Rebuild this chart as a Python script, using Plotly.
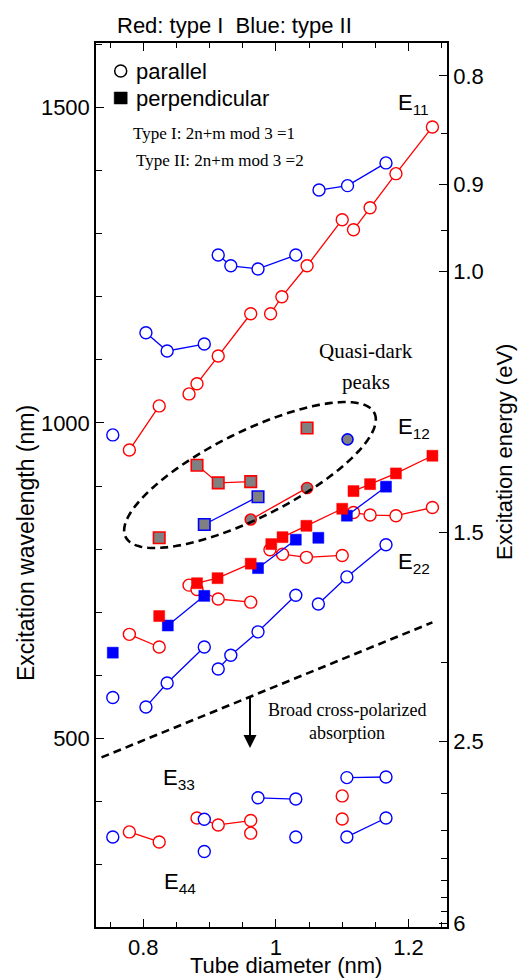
import math
import plotly.graph_objects as go

RED = "#ff0000"
BLUE = "#0000ff"
GRAY = "#808080"
SANS = "Liberation Sans, Arial, sans-serif"
SERIF = "Liberation Serif, Times New Roman, serif"

# ---------------- data (tube diameter nm, excitation wavelength nm); None = break ----
# E11, type I, parallel (red open circles)
e11_I_x = [0.779, 0.824, None, 0.869, 0.881, 0.913, 0.962, None, 0.992, 1.009, 1.047, 1.100, None, 1.117, 1.142, 1.181, 1.236]
e11_I_y = [957, 1027, None, 1046, 1062, 1106, 1173, None, 1173, 1200, 1249, 1322, None, 1306, 1341, 1395, 1469]
# E11, type II, parallel (blue open circles)
e11_II_x = [0.754, None, 0.804, 0.836, 0.892, None, 0.913, 0.932, 0.973, 1.030, None, 1.065, 1.108, 1.166]
e11_II_y = [981, None, 1143, 1114, 1125, None, 1266, 1249, 1244, 1266, None, 1369, 1376, 1412]
# E22, type I, parallel
e22_I_x = [0.779, 0.824, None, 0.869, 0.881, 0.913, 0.962, None, 0.991, 1.010, 1.046, 1.100, None, 1.117, 1.142, 1.181, 1.236]
e22_I_y = [665, 645, None, 743, 736, 721, 716, None, 799, 792, 787, 790, None, 858, 854, 853, 866]
# E22, type II, parallel
e22_II_x = [0.754, None, 0.804, 0.836, 0.892, None, 0.913, 0.932, 0.973, 1.030, None, 1.064, 1.107, 1.166]
e22_II_y = [565, None, 550, 588, 645, None, 610, 632, 669, 727, None, 713, 756, 807]
# E12, type I, perpendicular (red filled squares)
e12_I_x = [0.824, None, 0.881, 0.912, 0.962, None, 0.993, 1.010, 1.046, 1.100, None, 1.117, 1.142, 1.181, 1.236]
e12_I_y = [694, None, 746, 754, 777, None, 808, 819, 837, 864, None, 892, 903, 920, 948]
# E12, type II, perpendicular (blue filled squares)
e12_II_x = [0.754, None, 0.837, 0.892, None, 0.973, 1.030, None, 1.064, None, 1.107, 1.166]
e12_II_y = [636, None, 679, 726, None, 770, 815, None, 818, None, 853, 899]
# Quasi-dark peaks (gray)
qd_I_sq_x = [0.824, None, 0.881, 0.913, 0.962, None, 1.047]
qd_I_sq_y = [818, None, 933, 905, 907, None, 992]
qd_II_sq_x = [0.892, 0.973]
qd_II_sq_y = [839, 883]
qd_I_ci_x = [0.962, 1.047]
qd_I_ci_y = [847, 897]
qd_II_ci_x = [1.108]
qd_II_ci_y = [974]
# E33 / E44, parallel
e34_I_x = [0.779, 0.824, None, 0.881, 0.913, 0.962, None, 0.962, None, 1.100, None, 1.100]
e34_I_y = [352, 336, None, 374, 363, 370, None, 350, None, 409, None, 372.5]
e34_II_x = [0.754, None, 0.892, None, 0.892, None, 0.973, 1.030, None, 1.030, None, 1.107, 1.166, None, 1.107, 1.166]
e34_II_y = [344, None, 372, None, 321, None, 406, 404, None, 344, None, 438, 439, None, 344, 374]

# cross-polarized absorption boundary (dashed)
boundary_x = [0.737, 1.236]
boundary_y = [470, 684]

# right axis: photon energy tick labels (eV)
energy_major = [0.8, 0.9, 1.0, 1.5, 2.5, 6]
energy_major_text = ["0.8", "0.9", "1.0", "1.5", "2.5", "6"]
energy_minor = [0.85, 0.95, 2.0, 3.0, 3.5, 4.0, 4.5, 5.0, 5.5]
HC = 1239.84  # eV*nm

# ---------------- layout geometry ----------------
W, H = 518, 978
L, R, T, B = 96, 71, 43, 51
XR = [0.7287, 1.258]
YR = [201.3, 1602]
PW, PH = W - L - R, H - T - B


def dx(px):
    return XR[0] + (px - L) / PW * (XR[1] - XR[0])


def dy(py):
    return YR[1] - (py - T) / PH * (YR[1] - YR[0])


def px_paper(px):
    return (px - L) / PW


def py_paper(py):
    return 1 - (py - T) / PH


fig = go.Figure()


def add(xs, ys, color, symbol, size, fill, lw=1.3, mlw=1.4):
    fig.add_trace(go.Scatter(
        x=xs, y=ys, mode="lines+markers", showlegend=False,
        line=dict(color=color, width=lw),
        marker=dict(symbol=symbol, size=size, color=fill,
                    line=dict(color=color, width=mlw)),
    ))


add(e11_I_x, e11_I_y, RED, "circle", 12, "white")
add(e11_II_x, e11_II_y, BLUE, "circle", 12, "white")
add(e22_I_x, e22_I_y, RED, "circle", 12, "white")
add(e22_II_x, e22_II_y, BLUE, "circle", 12, "white")
add(e34_I_x, e34_I_y, RED, "circle", 12, "white")
add(e34_II_x, e34_II_y, BLUE, "circle", 12, "white")
add(e12_II_x, e12_II_y, BLUE, "square", 11, BLUE, mlw=0.5)
add(e12_I_x, e12_I_y, RED, "square", 11, RED, mlw=0.5)
add(qd_I_sq_x, qd_I_sq_y, RED, "square", 11.5, GRAY, mlw=1.6)
add(qd_II_sq_x, qd_II_sq_y, BLUE, "square", 11.5, GRAY, mlw=1.6)
add(qd_I_ci_x, qd_I_ci_y, RED, "circle", 11, GRAY, mlw=1.6)
add(qd_II_ci_x, qd_II_ci_y, BLUE, "circle", 11, GRAY, mlw=1.6)

# dummy trace for right axis
fig.add_trace(go.Scatter(x=[None], y=[None], yaxis="y2", showlegend=False, hoverinfo="skip"))

# dashed boundary line
fig.add_shape(type="line", xref="x", yref="y",
              x0=boundary_x[0], y0=boundary_y[0], x1=boundary_x[1], y1=boundary_y[1],
              line=dict(color="black", width=2.6, dash="8px,5px"))

# dashed ellipse around quasi-dark peaks
cx, cy, ea, eb, th = 250, 475, 139, 43, math.radians(26.5)
pts = []
for i in range(121):
    t = 2 * math.pi * i / 120
    u, v = ea * math.cos(t), eb * math.sin(t)
    px = cx + u * math.cos(th) + v * math.sin(th)
    py = cy - u * math.sin(th) + v * math.cos(th)
    pts.append((dx(px), dy(py)))
path = "M " + " L ".join(f"{x:.5f},{y:.3f}" for x, y in pts) + " Z"
fig.add_shape(type="path", xref="x", yref="y", path=path,
              line=dict(color="black", width=2.6, dash="8px,5px"))

# legend symbols (drawn as pixel-sized shapes)
fig.add_shape(type="circle", xref="x", yref="y", xsizemode="pixel", ysizemode="pixel",
              xanchor=dx(120.7), yanchor=dy(71), x0=-6, x1=6, y0=-6, y1=6,
              line=dict(color="black", width=1.5), fillcolor="white")
fig.add_shape(type="rect", xref="x", yref="y", xsizemode="pixel", ysizemode="pixel",
              xanchor=dx(120.7), yanchor=dy(98), x0=-6.5, x1=6.5, y0=-6, y1=6,
              line=dict(color="black", width=0.5), fillcolor="black")

anns = []


def txt(px, py, text, size, family=SANS, xanchor="left"):
    anns.append(dict(x=dx(px), y=dy(py), xref="x", yref="y", text=text, showarrow=False,
                     xanchor=xanchor, yanchor="middle",
                     font=dict(size=size, family=family, color="black")))


txt(134, 71, "parallel", 22)
txt(134, 98, "perpendicular", 22)
txt(214, 133, "Type I: 2n+m mod 3 =1", 17, SERIF, "center")
txt(220, 160, "Type II: 2n+m mod 3 =2", 17, SERIF, "center")
txt(366, 351, "Quasi-dark", 21, SERIF, "center")
txt(366, 382, "peaks", 21, SERIF, "center")
txt(347, 710, "Broad cross-polarized", 18, SERIF, "center")
txt(347, 733, "absorption", 18, SERIF, "center")
txt(396, 104, "E<sub>11</sub>", 22)
txt(396, 428, "E<sub>12</sub>", 22)
txt(396, 563, "E<sub>22</sub>", 22)
txt(161, 779, "E<sub>33</sub>", 22)
txt(162, 883, "E<sub>44</sub>", 22)

# arrow
anns.append(dict(x=dx(250), y=dy(748), ax=dx(250), ay=dy(696), xref="x", yref="y",
                 axref="x", ayref="y", text="", showarrow=True, arrowhead=2,
                 arrowsize=1.3, arrowwidth=2, arrowcolor="black"))

# title and axis titles
anns.append(dict(x=px_paper(234), y=py_paper(25), xref="paper", yref="paper",
                 text="Red: type I  Blue: type II", showarrow=False, xanchor="center",
                 yanchor="middle", font=dict(size=22, family=SANS, color="black")))
anns.append(dict(x=px_paper(286), y=py_paper(965), xref="paper", yref="paper",
                 text="Tube diameter (nm)", showarrow=False, xanchor="center",
                 yanchor="middle", font=dict(size=22, family=SANS, color="black")))
anns.append(dict(x=px_paper(26), y=py_paper(543), xref="paper", yref="paper",
                 text="Excitation wavelength (nm)", showarrow=False, textangle=-90,
                 xanchor="center", yanchor="middle",
                 font=dict(size=23, family=SANS, color="black")))
anns.append(dict(x=px_paper(504), y=py_paper(452), xref="paper", yref="paper",
                 text="Excitation energy (eV)", showarrow=False, textangle=-90,
                 xanchor="center", yanchor="middle",
                 font=dict(size=22, family=SANS, color="black")))

fig.update_layout(
    width=W, height=H, margin=dict(l=L, r=R, t=T, b=B),
    plot_bgcolor="white", paper_bgcolor="white",
    font=dict(family=SANS, size=22, color="black"),
    annotations=anns,
    showlegend=False,
    xaxis=dict(range=XR, showgrid=False, zeroline=False, showline=True, linecolor="black",
               linewidth=1.5, mirror="ticks", ticks="inside", ticklen=8, tickwidth=1.3,
               tickcolor="black", tickvals=[0.8, 1.0, 1.2], ticktext=["0.8", "1", "1.2"],
               tickfont=dict(size=22),
               minor=dict(tick0=0.75, dtick=0.05, ticks="inside", ticklen=5,
                          tickwidth=1.2, tickcolor="black")),
    yaxis=dict(range=YR, showgrid=False, zeroline=False, showline=True, linecolor="black",
               linewidth=1.5, mirror=False, ticks="inside", ticklen=8, tickwidth=1.3,
               tickcolor="black", tickvals=[500, 1000, 1500], tickfont=dict(size=22),
               minor=dict(tick0=0, dtick=100, ticks="inside", ticklen=6,
                          tickwidth=1.2, tickcolor="black")),
    yaxis2=dict(range=YR, overlaying="y", side="right", showgrid=False, zeroline=False,
                showline=True, linecolor="black", linewidth=1.5, ticks="inside",
                ticklen=8, tickwidth=1.3, tickcolor="black",
                tickmode="array", tickvals=[HC / e for e in energy_major],
                ticktext=energy_major_text, tickfont=dict(size=22),
                minor=dict(tickmode="array", tickvals=[HC / e for e in energy_minor],
                           ticks="inside", ticklen=6, tickwidth=1.2, tickcolor="black")),
)

fig.write_html("out.html", config={"displayModeBar": False},
               post_script="document.body.style.margin='0';document.body.style.padding='0';")
